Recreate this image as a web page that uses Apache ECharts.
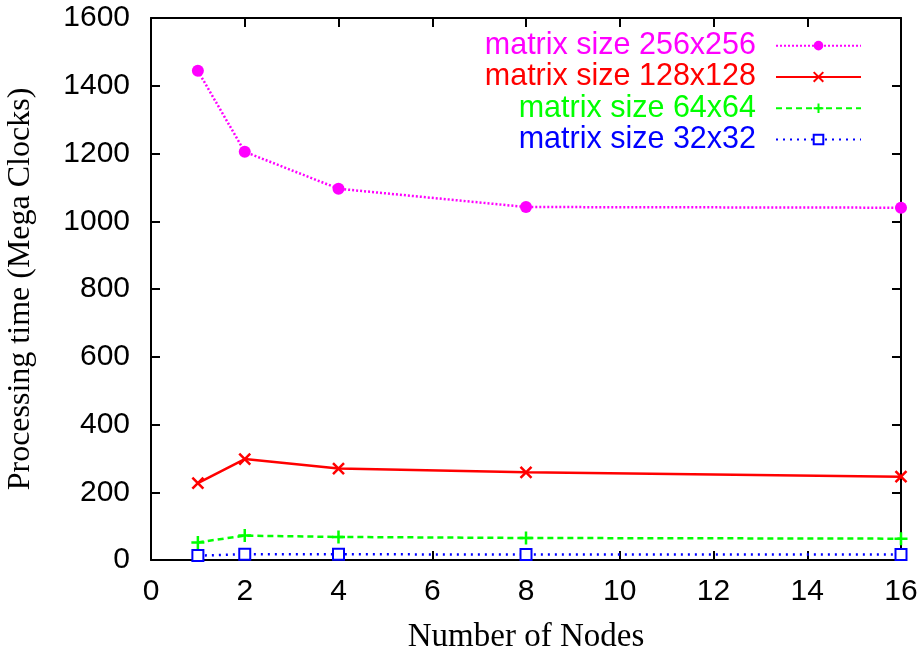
<!DOCTYPE html>
<html><head><meta charset="utf-8">
<script src="https://cdn.jsdelivr.net/npm/echarts@6/dist/echarts.min.js"></script>
<style>html,body{margin:0;padding:0;background:#fff}#c{width:922px;height:660px}</style>
</head><body><div id="c"></div>
<script>
var nodes = [1, 2, 4, 8, 16];
var s256 = [1444, 1205, 1096, 1042, 1040];
var s128 = [227, 298, 270, 259, 246];
var s64 = [52, 72, 68, 65, 63];
var s32 = [13, 17, 17, 16, 16];
var names = ['matrix size 256x256', 'matrix size 128x128', 'matrix size 64x64', 'matrix size 32x32'];
var colors = ['#ff00ff', '#ff0000', '#00ff00', '#0000ff'];
var xTicks = [0, 2, 4, 6, 8, 10, 12, 14, 16];
var yTicks = [0, 200, 400, 600, 800, 1000, 1200, 1400, 1600];

function pairs(v) { return nodes.map(function (x, i) { return [x, v[i]]; }); }
var tickFont = "'Liberation Sans', Arial, sans-serif";
var serif = "'Liberation Serif', 'Times New Roman', serif";
var chart = echarts.init(document.getElementById('c'));
function line() { return { show: true, onZero: false, lineStyle: { color: '#000', width: 2 } }; }
function tick() { return { show: true, inside: true, length: 9, lineStyle: { color: '#000', width: 2 } }; }
var crossX = 'path://M0,0L10,10M10,0L0,10';
var plus = 'path://M5,0L5,10M0,5L10,5';
chart.setOption({
  animation: false,
  grid: { left: 151, right: 21, top: 18, bottom: 100, show: false, outerBoundsMode: 'none', containLabel: false },
  xAxis: [{
    type: 'value', min: xTicks[0], max: xTicks[xTicks.length - 1], interval: 2,
    axisLine: line(), axisTick: tick(), splitLine: { show: false },
    axisLabel: { color: '#000', fontSize: 30, fontFamily: tickFont, margin: 17 },
    name: 'Number of Nodes', nameLocation: 'middle', nameGap: 61, nameMoveOverlap: false,
    nameTextStyle: { color: '#000', fontSize: 33, fontFamily: serif }
  }, {
    type: 'value', position: 'top', min: xTicks[0], max: xTicks[xTicks.length - 1], interval: 2,
    axisLine: line(), axisTick: tick(), axisLabel: { show: false }, splitLine: { show: false }
  }],
  yAxis: [{
    type: 'value', min: yTicks[0], max: yTicks[yTicks.length - 1], interval: 200,
    axisLine: line(), axisTick: tick(), splitLine: { show: false },
    axisLabel: { color: '#000', fontSize: 30, fontFamily: tickFont, margin: 21,
      formatter: function (v) { return String(v); } },
    name: 'Processing time (Mega Clocks)', nameLocation: 'middle', nameGap: 114, nameMoveOverlap: false,
    nameTextStyle: { color: '#000', fontSize: 32, fontFamily: serif }
  }, {
    type: 'value', position: 'right', min: yTicks[0], max: yTicks[yTicks.length - 1], interval: 200,
    axisLine: line(), axisTick: tick(), axisLabel: { show: false }, splitLine: { show: false }
  }],
  legend: {
    orient: 'vertical', align: 'right', right: 55, top: 25, itemGap: 0,
    itemWidth: 85, itemHeight: 12,
    textStyle: { fontSize: 30.5, lineHeight: 31.3, padding: [0, 15, 0, 0], fontFamily: "'Liberation Sans', Arial, sans-serif" },
    data: names.map(function (n, i) { return { name: n, textStyle: { color: colors[i] } }; })
  },
  series: [
    { name: names[0], type: 'line', data: pairs(s256), symbol: 'circle', symbolSize: 12,
      itemStyle: { color: colors[0] }, lineStyle: { color: colors[0], width: 2.5, type: [2, 2] } },
    { name: names[1], type: 'line', data: pairs(s128), symbol: crossX, symbolSize: 11,
      itemStyle: { color: 'none', borderColor: colors[1], borderWidth: 2.5 },
      lineStyle: { color: colors[1], width: 2.5, type: 'solid' } },
    { name: names[2], type: 'line', data: pairs(s64), symbol: plus, symbolSize: 13,
      itemStyle: { color: 'none', borderColor: colors[2], borderWidth: 2.5 },
      lineStyle: { color: colors[2], width: 2.5, type: [6, 4] } },
    { name: names[3], type: 'line', data: pairs(s32), symbol: 'emptyRect', symbolSize: 11,
      itemStyle: { color: colors[3], borderColor: colors[3], borderWidth: 2.5 },
      lineStyle: { color: colors[3], width: 2.5, type: [2, 5] } }
  ]
});
</script></body></html>
